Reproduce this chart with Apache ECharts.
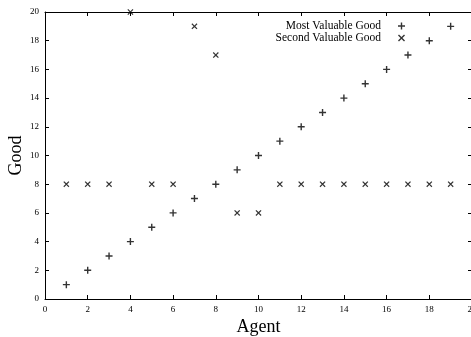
<!DOCTYPE html>
<html>
<head>
<meta charset="utf-8">
<script src="https://cdn.jsdelivr.net/npm/echarts@6/dist/echarts.min.js"></script>
<style>
  html, body { margin: 0; padding: 0; background: #fff; }
  #chart { width: 471px; height: 337px; }
</style>
</head>
<body>
<div id="chart"></div>
<script>
// Agents 1..19 and the good each one values most / second most
const agents = [1, 2, 3, 4, 5, 6, 7, 8, 9, 10, 11, 12, 13, 14, 15, 16, 17, 18, 19];
const mostValuable = [1, 2, 3, 4, 5, 6, 7, 8, 9, 10, 11, 12, 13, 14, 15, 16, 17, 18, 19];
const secondValuable = [8, 8, 8, 20, 8, 8, 19, 17, 6, 6, 8, 8, 8, 8, 8, 8, 8, 8, 8];
const seriesNames = ['Most Valuable Good', 'Second Valuable Good'];

// gnuplot-style point glyphs
const PLUS = 'path://M4,0H6V4H10V6H6V10H4V6H0V4H4Z';
const CROSS = 'path://M0,1.4L1.4,0L5,3.6L8.6,0L10,1.4L6.4,5L10,8.6L8.6,10L5,6.4L1.4,10L0,8.6L3.6,5Z';

const FONT = '"Liberation Serif", "DejaVu Serif", serif';

const pairs = (ys) => agents.map((a, i) => [a, ys[i]]);

const axisCommon = {
  min: 0, max: 20, interval: 2,
  axisLine: { show: true, onZero: false, lineStyle: { color: '#000', width: 1 } },
  axisTick: { show: true, inside: true, length: 4, lineStyle: { color: '#000', width: 1 } },
  splitLine: { show: false }
};

const chart = echarts.init(document.getElementById('chart'), null, { renderer: 'canvas' });
chart.setOption({
  animation: false,
  backgroundColor: '#fff',
  grid: { left: 45, top: 12, width: 427, height: 287, containLabel: false, outerBoundsMode: 'none' },
  legend: {
    orient: 'vertical',
    right: 66,
    top: 20,
    padding: 0,
    align: 'right',
    itemWidth: 7,
    itemHeight: 7,
    itemGap: 0,
    textStyle: { fontFamily: FONT, fontSize: 11.5, lineHeight: 9, color: '#000', padding: [0, 12, 0, 0] },
    data: [
      { name: seriesNames[0], icon: PLUS },
      { name: seriesNames[1], icon: CROSS }
    ]
  },
  xAxis: [
    Object.assign({}, axisCommon, {
      type: 'value', position: 'bottom',
      name: 'Agent', nameLocation: 'middle', nameGap: 19, nameMoveOverlap: false,
      nameTextStyle: { fontFamily: FONT, fontSize: 18, color: '#000' },
      axisLabel: { fontFamily: FONT, fontSize: 9, color: '#000', margin: 6 }
    }),
    Object.assign({}, axisCommon, {
      type: 'value', position: 'top',
      axisLabel: { show: false }
    })
  ],
  yAxis: [
    Object.assign({}, axisCommon, {
      type: 'value', position: 'left',
      name: 'Good', nameLocation: 'middle', nameGap: 20, nameRotate: 90, nameMoveOverlap: false,
      nameTextStyle: { fontFamily: FONT, fontSize: 18, color: '#000' },
      axisLabel: { fontFamily: FONT, fontSize: 9, color: '#000', margin: 6 }
    }),
    Object.assign({}, axisCommon, {
      type: 'value', position: 'right',
      axisLabel: { show: false }
    })
  ],
  series: [
    {
      name: seriesNames[0], type: 'scatter',
      symbol: PLUS, symbolSize: 7,
      itemStyle: { color: '#000' },
      data: pairs(mostValuable)
    },
    {
      name: seriesNames[1], type: 'scatter',
      symbol: CROSS, symbolSize: 6,
      itemStyle: { color: '#000' },
      data: pairs(secondValuable)
    }
  ]
});
</script>
</body>
</html>
